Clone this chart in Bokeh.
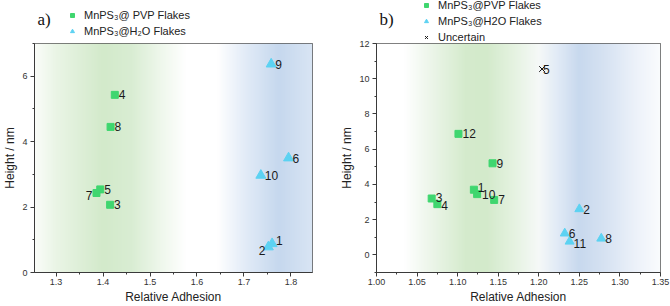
import numpy as np
from bokeh.plotting import figure
from bokeh.layouts import row, column
from bokeh.models import (ColumnDataSource, FixedTicker, Legend, LegendItem,
                          Label, Range1d, NumeralTickFormatter)
from bokeh.embed import file_html
from bokeh.resources import INLINE
from bokeh.core.properties import value

# ---- panel a: relative adhesion vs height ----
a_pvp_id = ["3", "4", "5", "7", "8"]
a_pvp_adh = [1.415, 1.425, 1.394, 1.386, 1.416]
a_pvp_h = [2.07, 5.43, 2.54, 2.43, 4.45]

a_h2o_id = ["1", "2", "6", "9", "10"]
a_h2o_adh = [1.760, 1.752, 1.795, 1.758, 1.736]
a_h2o_h = [0.88, 0.78, 3.50, 6.37, 2.97]

a_xticks = [1.3, 1.4, 1.5, 1.6, 1.7, 1.8]
a_yticks = [0, 2, 4, 6]

# ---- panel b ----
b_pvp_id = ["1", "3", "4", "7", "9", "10", "12"]
b_pvp_adh = [1.120, 1.068, 1.075, 1.145, 1.143, 1.124, 1.101]
b_pvp_h = [3.70, 3.20, 2.88, 3.12, 5.20, 3.45, 6.87]

b_h2o_id = ["2", "6", "8", "11"]
b_h2o_adh = [1.250, 1.232, 1.277, 1.238]
b_h2o_h = [2.60, 1.22, 0.93, 0.76]

b_unc_id = ["5"]
b_unc_adh = [1.204]
b_unc_h = [10.55]

b_xticks = [1.00, 1.05, 1.10, 1.15, 1.20, 1.25, 1.30, 1.35]
b_yticks = [0, 2, 4, 6, 8, 10, 12]

GREEN = "#3fd66f"
CYAN = "#5cd2f2"
INK = "#3a3a3a"
FONT = "Liberation Sans"
HEAD_H = 50  # height of the strip holding panel letter + legend

# label placement tweaks (pixel offsets, alignment) for crowded points
a_label_style = {"7": (-4, 2, "right"), "2": (-3, 4, "right"), "1": (4, -3, "left")}
b_label_style = {"1": (4, -2, "left"), "10": (5, 0, "left"), "11": (4, 2, "left"),
                 "4": (4, 1, "left"), "3": (4, -1, "left")}

MARK = {
    "pvp": dict(marker="square", size=7, fill_color=GREEN, line_color=GREEN),
    "h2o": dict(marker="triangle", size=10, fill_color=CYAN, line_color=CYAN),
    "unc": dict(marker="x", size=8, line_color="#111111", line_width=1),
}


def band_image(x0, x1, stops, n=500):
    """Horizontal colour gradient as a 1-row RGBA image."""
    xs = np.linspace(x0, x1, n)
    sx = [s[0] for s in stops]
    rgb = [[int(s[1][i:i + 2], 16) for i in (1, 3, 5)] for s in stops]
    img = np.zeros((1, n), dtype=np.uint32)
    view = img.view(np.uint8).reshape((1, n, 4))
    for c in range(3):
        view[0, :, c] = np.interp(xs, sx, [r[c] for r in rgb]).astype(np.uint8)
    view[0, :, 3] = 255
    return img


def make_fig(xr, yr, left, right, xticks, xminor, yticks, yminor, xfmt):
    p = figure(width=335, height=306, x_range=Range1d(*xr), y_range=Range1d(*yr),
               output_backend="svg", toolbar_location=None,
               min_border_left=left, min_border_right=right,
               min_border_top=43, min_border_bottom=34,
               margin=(-HEAD_H, 0, 0, 0))
    p.grid.visible = False
    p.outline_line_color = "#555555"
    p.outline_line_width = 1
    p.background_fill_color = "white"
    p.border_fill_alpha = 0
    p.xaxis.ticker = FixedTicker(ticks=xticks, minor_ticks=xminor)
    p.yaxis.ticker = FixedTicker(ticks=yticks, minor_ticks=yminor)
    p.xaxis.formatter = NumeralTickFormatter(format=xfmt)
    p.xaxis.axis_label = "Relative Adhesion"
    p.yaxis.axis_label = "Height / nm"
    for ax in (p.xaxis[0], p.yaxis[0]):
        ax.axis_line_color = INK
        ax.major_tick_line_color = INK
        ax.minor_tick_line_color = INK
        ax.major_tick_in = 0
        ax.major_tick_out = 4
        ax.minor_tick_in = 0
        ax.minor_tick_out = 2
        ax.major_label_text_font = FONT
        ax.major_label_text_font_size = "9px"
        ax.major_label_text_color = "#333333"
        ax.axis_label_text_font = FONT
        ax.axis_label_text_font_size = "12px"
        ax.axis_label_text_font_style = "normal"
        ax.axis_label_text_color = "#222222"
        ax.major_label_standoff = 3
        ax.axis_label_standoff = 2
    p.xaxis.major_label_standoff = 2
    return p


def make_header(letter, entries, legend_x, legend_top):
    """Strip above a panel: panel letter and the series legend."""
    h = figure(width=335, height=HEAD_H, x_range=Range1d(0, 335),
               y_range=Range1d(0, HEAD_H), output_backend="svg",
               toolbar_location=None, x_axis_location=None, y_axis_location=None,
               min_border=0)
    h.grid.visible = False
    h.outline_line_color = None
    items = []
    for label, kind in entries:
        # legend proxy: one point kept outside the strip's visible range
        r = h.scatter(x=[-1000], y=[-1000], **MARK[kind])
        items.append(LegendItem(label=label, renderers=[r]))
    row_h = 16
    leg = Legend(items=items,
                 location=(legend_x, HEAD_H - legend_top - row_h * len(items)))
    leg.background_fill_alpha = 0
    leg.border_line_alpha = 0
    leg.padding = 0
    leg.margin = 0
    leg.spacing = 0
    leg.glyph_width = 10
    leg.glyph_height = row_h
    leg.label_height = row_h
    leg.label_standoff = 7
    leg.label_text_font = FONT
    leg.label_text_font_size = "11px"
    leg.label_text_color = "#222222"
    h.add_layout(leg)
    h.add_layout(Label(x=3, y=HEAD_H - 19, x_units="screen", y_units="screen",
                       text=letter, text_font="Liberation Serif", text_font_size="17px",
                       text_baseline="alphabetic", text_color="#111111"))
    return h


def add_labels(p, ids, xs, ys, style):
    dx, dy, al = [], [], []
    for i in ids:
        s = style.get(i, (4, 0, "left"))
        dx.append(s[0]); dy.append(s[1]); al.append(s[2])
    src = ColumnDataSource(dict(x=xs, y=ys, t=ids, dx=dx, dy=dy, al=al))
    p.text(x="x", y="y", text="t", x_offset="dx", y_offset="dy", text_align="al",
           text_baseline="middle", text_font=value(FONT), text_font_size="12px",
           text_color="#1a1a1a", source=src)


# ---------------- panel a ----------------
pa = make_fig((1.254, 1.846), (0, 7), 29, 23, a_xticks,
              [1.25, 1.35, 1.45, 1.55, 1.65, 1.75, 1.85], a_yticks, [1, 3, 5, 7], "0.0")
a_bg = band_image(1.254, 1.846, [
    (1.254, "#fbfdfa"), (1.30, "#eaf5e6"), (1.40, "#d3eacb"), (1.46, "#d9edd3"),
    (1.52, "#eef7eb"), (1.575, "#ffffff"), (1.645, "#ffffff"), (1.70, "#e4edf8"),
    (1.775, "#c6d8ee"), (1.846, "#d9e5f4")])
pa.image_rgba(image=[a_bg], x=1.254, y=0, dw=1.846 - 1.254, dh=7)

pa.scatter(a_pvp_adh, a_pvp_h, **MARK["pvp"])
pa.scatter(a_h2o_adh, a_h2o_h, **MARK["h2o"])
add_labels(pa, a_pvp_id, a_pvp_adh, a_pvp_h, a_label_style)
add_labels(pa, a_h2o_id, a_h2o_adh, a_h2o_h, a_label_style)

ha = make_header("a)", [("MnPS\u2083@ PVP Flakes", "pvp"),
                        ("MnPS\u2083@H\u2082O Flakes", "h2o")], 33, 7)

# ---------------- panel b ----------------
pb = make_fig((1.00, 1.35), (-1, 12), 41, 10, b_xticks,
              [1.025, 1.075, 1.125, 1.175, 1.225, 1.275, 1.325], b_yticks,
              [-1, 1, 3, 5, 7, 9, 11], "0.00")
b_bg = band_image(1.00, 1.35, [
    (1.00, "#ffffff"), (1.035, "#ffffff"), (1.07, "#ebf5e8"), (1.11, "#d5ebcd"),
    (1.135, "#d3eacb"), (1.17, "#e6f3e2"), (1.20, "#f6f9f8"), (1.225, "#e0eaf6"),
    (1.25, "#c8d9ee"), (1.28, "#d6e2f2"), (1.32, "#edf2fa"), (1.35, "#fafcfe")])
pb.image_rgba(image=[b_bg], x=1.00, y=-1, dw=0.35, dh=13)

pb.scatter(b_pvp_adh, b_pvp_h, **MARK["pvp"])
pb.scatter(b_h2o_adh, b_h2o_h, **dict(MARK["h2o"], size=9))
pb.scatter(b_unc_adh, b_unc_h, **MARK["unc"])
add_labels(pb, b_pvp_id, b_pvp_adh, b_pvp_h, b_label_style)
add_labels(pb, b_h2o_id, b_h2o_adh, b_h2o_h, b_label_style)
add_labels(pb, b_unc_id, b_unc_adh, b_unc_h, {"5": (1, 0, "left")})

hb = make_header("b)", [("MnPS\u2083@PVP Flakes", "pvp"),
                        ("MnPS\u2083@H2O Flakes", "h2o"),
                        ("Uncertain", "unc")], 45, -3)

layout = row(column(ha, pa, spacing=0), column(hb, pb, spacing=0), spacing=0)
open("out.html", "w").write(file_html(layout, INLINE))
